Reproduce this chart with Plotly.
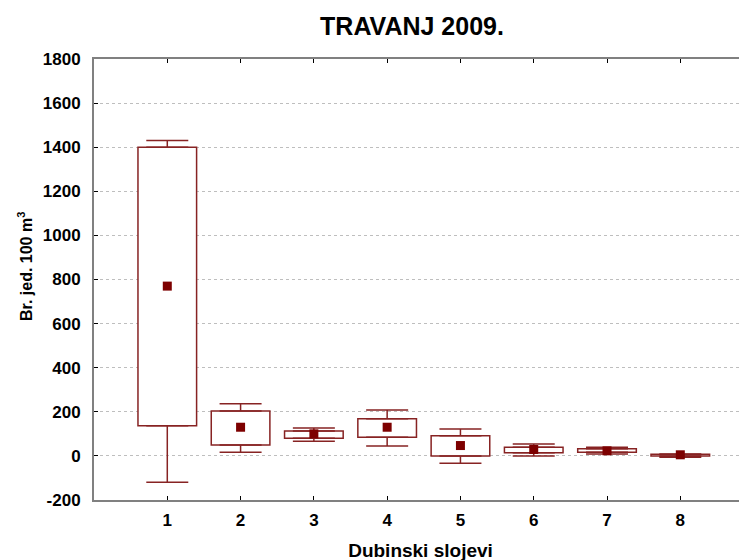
import plotly.graph_objects as go
import numpy as np

# depth layers (Dubinski slojevi)
layers = [1, 2, 3, 4, 5, 6, 7, 8]
# mean value (square marker)
means = [770, 130, 100, 130, 47, 29, 23, 5]
# box edges
box_low = [137, 50, 80, 85, -1, 14, 17, -1]
box_high = [1400, 204, 113, 168, 91, 39, 32, 8]
# whisker ends
whisk_low = [-119, 17, 67, 45, -33, -1, 9, -6]
whisk_high = [1430, 236, 127, 208, 122, 54, 39, 9]
# y tick labels (plain hyphen for the negative one)
y_ticks = [-200, 0, 200, 400, 600, 800, 1000, 1200, 1400, 1600, 1800]
y_labels = [str(v) for v in y_ticks]

line_col = 'rgb(135, 35, 35)'
mark_col = 'rgb(125, 0, 0)'
font_family = 'Liberation Sans, Arial, sans-serif'

bl = np.array(box_low)
bh = np.array(box_high)
wl = np.array(whisk_low)
wh = np.array(whisk_high)

fig = go.Figure()

# boxes
fig.add_trace(go.Bar(x=layers, y=bh - bl, base=bl, width=0.8,
                     marker=dict(color='white', line=dict(color=line_col, width=1.5)),
                     showlegend=False, hoverinfo='skip'))

# upper whiskers
fig.add_trace(go.Scatter(x=layers, y=box_high, mode='markers',
                         marker=dict(color='rgba(0,0,0,0)', size=1),
                         error_y=dict(type='data', symmetric=False, array=list(wh - bh),
                                      arrayminus=[0] * len(layers), color=line_col,
                                      thickness=1.5, width=21),
                         showlegend=False, hoverinfo='skip'))
# lower whiskers
fig.add_trace(go.Scatter(x=layers, y=box_low, mode='markers',
                         marker=dict(color='rgba(0,0,0,0)', size=1),
                         error_y=dict(type='data', symmetric=False, array=[0] * len(layers),
                                      arrayminus=list(bl - wl), color=line_col,
                                      thickness=1.5, width=21),
                         showlegend=False, hoverinfo='skip'))

# means
fig.add_trace(go.Scatter(x=layers, y=means, mode='markers',
                         marker=dict(symbol='square', size=9, color=mark_col),
                         showlegend=False))

# the page body adds 8px on the left and top, so margins are shifted by 8
fig.update_layout(
    width=747, height=560,
    margin=dict(l=86, r=8, t=51, b=68, autoexpand=False),
    plot_bgcolor='white', paper_bgcolor='white',
    barmode='overlay',
    font=dict(family=font_family, color='black'),
    title=dict(text='TRAVANJ 2009.', x=404 / 747, xanchor='center',
               y=1 - 18 / 560, yanchor='middle',
               font=dict(size=25, weight='bold', family=font_family)),
    xaxis=dict(range=[0, 8.91], tickvals=layers, ticktext=[str(v) for v in layers],
               ticks='inside', ticklen=4, tickcolor='black',
               showline=True, linecolor='rgb(128,128,128)', linewidth=2, mirror='ticks',
               showgrid=False, zeroline=False, ticklabelstandoff=4,
               tickfont=dict(size=17, weight='bold'),
               title=dict(text='Dubinski slojevi', standoff=14,
                          font=dict(size=19, weight='bold'))),
    yaxis=dict(range=[-200, 1800], tickvals=y_ticks, ticktext=y_labels,
               ticks='inside', ticklen=4, tickcolor='black',
               showline=True, linecolor='rgb(128,128,128)', linewidth=2, mirror='ticks',
               showgrid=True, gridcolor='rgb(190,190,190)', griddash='dot', gridwidth=1,
               zeroline=False, ticklabelstandoff=8,
               tickfont=dict(size=17, weight='bold')),
)

# y-axis title, placed a bit above the plot centre like the reference
fig.add_annotation(text='Br. jed. 100 m<sup>3</sup>', textangle=-90,
                   xref='paper', yref='paper', x=0, y=(500 - 267) / 441,
                   xanchor='center', yanchor='middle', xshift=-69,
                   showarrow=False, font=dict(size=16, weight='bold'))

fig.write_html("out.html")
